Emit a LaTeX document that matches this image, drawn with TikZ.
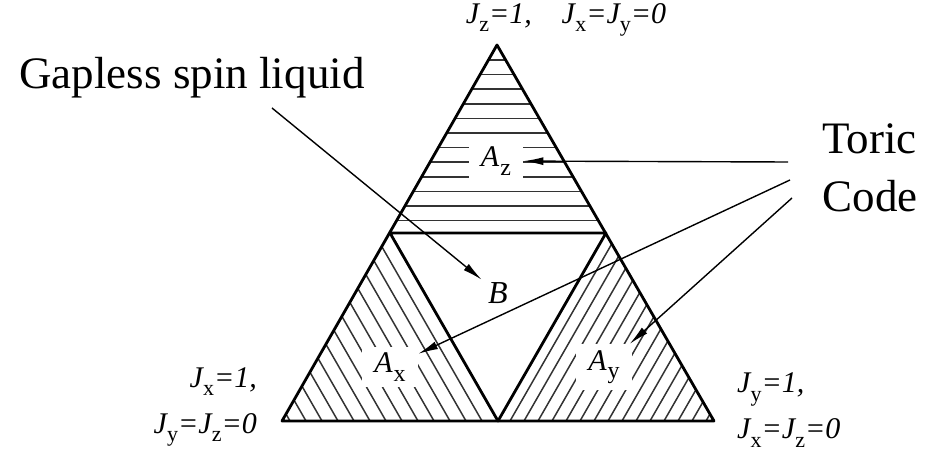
\documentclass[tikz,border=0pt]{standalone}
\usepackage{fontspec}
\setmainfont{Liberation Serif}
\usetikzlibrary{arrows.meta}

% coupling J with a lowered upright subscript
\newcommand{\coup}[1]{\textit{J}\kern-0.5pt\raisebox{-0.6ex}{\fontsize{11}{11}\selectfont #1}}
% phase label A with a lowered upright subscript
\newcommand{\phase}[1]{\textit{A}\kern0.5pt\raisebox{-0.6ex}{\fontsize{12}{12}\selectfont #1}}

\begin{document}
\begin{tikzpicture}[x=0.5pt, y=-0.5pt, line join=round,
    edge/.style={line width=1.4pt},
    hatch/.style={line width=0.75pt, black!80},
    region/.style={fill=white, inner xsep=6pt, inner ysep=3pt, font=\fontsize{15}{17}\selectfont},
    pointer/.style={line width=0.7pt, -{Latex[length=10pt,width=4pt]}},
    coupling/.style={font=\fontsize{15}{23}\selectfont},
    caption/.style={font=\fontsize{22.5}{29}\selectfont}]

    \useasboundingbox (0,0) rectangle (942,475);

    % Sommets du grand triangle et milieux des cotes
    \coordinate (top) at (497,45);
    \coordinate (bl) at (282,421);
    \coordinate (br) at (714,421);
    \coordinate (ml) at (390,233);
    \coordinate (mr) at (606,233);
    \coordinate (mb) at (498,421);

    % Hachures horizontales (A_z)
    \begin{scope}
        \clip (top) -- (ml) -- (mr) -- cycle;
        \foreach \y in {60,74.6,...,230}{
            \draw[hatch] (380,\y) -- (620,\y);
        }
    \end{scope}

    % Hachures A_x
    \begin{scope}
        \clip (bl) -- (ml) -- (mb) -- cycle;
        \foreach \x in {290,306,...,498}{
            \draw[hatch] (\x,421) -- ++(-140,-243.7);
        }
    \end{scope}

    % Hachures A_y
    \begin{scope}
        \clip (mb) -- (mr) -- (br) -- cycle;
        \foreach \x in {510,524,...,714}{
            \draw[hatch] (\x,421) -- ++(140,-243.7);
        }
    \end{scope}

    % Contours
    \draw[edge] (top) -- (bl) -- (br) -- cycle;
    \draw[edge] (ml) -- (mr) -- (mb) -- cycle;

    % Phases
    \node[region] (Az) at (496,161) {\phase{z}};
    \node[region] (Ax) at (390,367) {\phase{x}};
    \node[region] (Ay) at (604,367) {\phase{y}};
    \node[region, inner xsep=3pt, font=\fontsize{16}{18}\selectfont] (B) at (498,293) {\textit{B}};

    % Couplages aux sommets
    \node[coupling] (jz) at (566,20) {\coup{z}\textit{=1,}\hspace{1em}\coup{x}\textit{=}\coup{y}\textit{=0}};
    \node[coupling, align=right, anchor=east] (jx) at (264,407) {\coup{x}\textit{=1,}\\ \coup{y}\textit{=}\coup{z}\textit{=0}};
    \node[coupling, align=left, anchor=west] (jy) at (730,410) {\coup{y}\textit{=1,}\\ \coup{x}\textit{=}\coup{z}\textit{=0}};

    % Legendes
    \node[caption] (gsl) at (192,78) {Gapless spin liquid};
    \node[caption, align=left] (toric) at (870,168) {Toric\\Code};

    % Fleches
    \coordinate (gs) at (272,108);
    \coordinate (t1) at (788,162);
    \coordinate (t2) at (790,180);
    \coordinate (t3) at (792,198);
    \draw[pointer] (gs) -- (B);
    \draw[pointer] (t1) -- (Az);
    \draw[pointer] (t2) -- (Ax);
    \draw[pointer] (t3) -- (Ay);

\end{tikzpicture}
\end{document}
